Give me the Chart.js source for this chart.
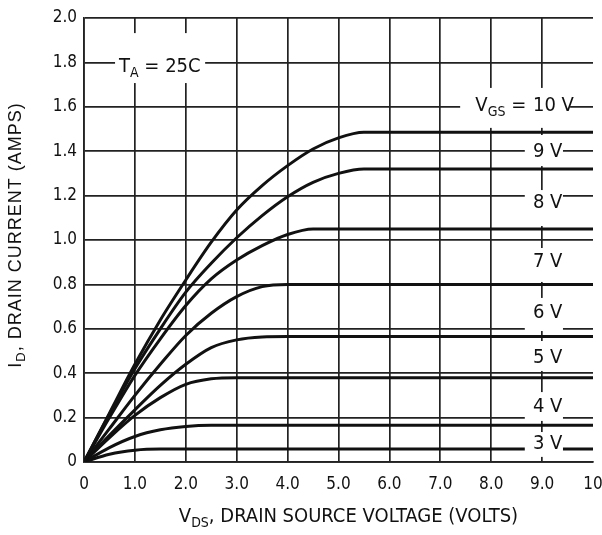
<!DOCTYPE html>
<html><head><meta charset="utf-8">
<script src="https://cdn.jsdelivr.net/npm/chart.js@4.4.1/dist/chart.umd.min.js"></script>
<style>html,body{margin:0;padding:0;background:#fff}#wrap{width:602px;height:535px;position:relative}</style>
</head><body><div id="wrap"><canvas id="c" width="602" height="535"></canvas></div>
<script>
// ---- data ----
const vds   = [0, 0.5, 1, 1.5, 2, 2.5, 3, 3.5, 4, 4.5, 5, 5.5, 6, 7, 8, 9, 10];
const id10V = [0, 0.22, 0.44, 0.64, 0.82, 0.99, 1.135, 1.245, 1.335, 1.41, 1.46, 1.485, 1.485, 1.485, 1.485, 1.485, 1.485];
const id9V  = [0, 0.215, 0.42, 0.60, 0.765, 0.895, 1.01, 1.11, 1.195, 1.26, 1.30, 1.32, 1.32, 1.32, 1.32, 1.32, 1.32];
const id8V  = [0, 0.20, 0.39, 0.555, 0.705, 0.825, 0.91, 0.975, 1.025, 1.05, 1.05, 1.05, 1.05, 1.05, 1.05, 1.05, 1.05];
const id7V  = [0, 0.15, 0.30, 0.44, 0.57, 0.67, 0.745, 0.79, 0.80, 0.80, 0.80, 0.80, 0.80, 0.80, 0.80, 0.80, 0.80];
const id6V  = [0, 0.12, 0.235, 0.345, 0.44, 0.515, 0.55, 0.563, 0.565, 0.565, 0.565, 0.565, 0.565, 0.565, 0.565, 0.565, 0.565];
const id5V  = [0, 0.11, 0.21, 0.29, 0.35, 0.375, 0.38, 0.38, 0.38, 0.38, 0.38, 0.38, 0.38, 0.38, 0.38, 0.38, 0.38];
const id4V  = [0, 0.065, 0.115, 0.145, 0.16, 0.165, 0.165, 0.165, 0.165, 0.165, 0.165, 0.165, 0.165, 0.165, 0.165, 0.165, 0.165];
const id3V  = [0, 0.035, 0.053, 0.058, 0.058, 0.058, 0.058, 0.058, 0.058, 0.058, 0.058, 0.058, 0.058, 0.058, 0.058, 0.058, 0.058];
const seriesNames = ['10 V', '9 V', '8 V', '7 V', '6 V', '5 V', '4 V', '3 V'];
const xTickLabels = ['0', '1.0', '2.0', '3.0', '4.0', '5.0', '6.0', '7.0', '8.0', '9.0', '10'];
const yTickLabels = ['0', '0.2', '0.4', '0.6', '0.8', '1.0', '1.2', '1.4', '1.6', '1.8', '2.0'];
// label anchor (value units): y centre of each curve label, and its white box (top, bottom)
const labelCenters = [1.604, 1.399, 1.167, 0.90, 0.671, 0.468, 0.248, 0.081];
const labelBoxTop  = [1.685, 1.473, 1.225, 0.964, 0.739, 0.545, 0.315, 0.135];
const labelBoxBot  = [1.505, 1.333, 1.063, 0.811, 0.590, 0.410, 0.185, 0.023];

// ---- styling ----
const NARROW = "'DejaVu Sans Condensed','Liberation Sans Narrow','Arial Narrow',sans-serif";
const REG = "'Liberation Sans',Arial,sans-serif";
const GRID = '#222';
const allSeries = [id10V, id9V, id8V, id7V, id6V, id5V, id4V, id3V];

const datasets = allSeries.map((arr, i) => ({
  label: 'VGS = ' + seriesNames[i],
  data: vds.map((x, k) => ({x: x, y: arr[k]})),
  borderColor: '#111',
  borderWidth: 3,
  pointRadius: 0,
  fill: false,
  cubicInterpolationMode: 'monotone'
}));

function drawSegs(ctx, segs, x, y, size, font, align) {
  const widths = [];
  let total = 0;
  segs.forEach(s => {
    ctx.font = (s.sub ? Math.round(size * 0.72) : size) + 'px ' + font;
    const w = ctx.measureText(s.t).width;
    widths.push(w); total += w;
  });
  let cx = align === 'center' ? x - total / 2 : (align === 'right' ? x - total : x);
  ctx.textAlign = 'left';
  ctx.textBaseline = 'middle';
  segs.forEach((s, i) => {
    ctx.font = (s.sub ? Math.round(size * 0.72) : size) + 'px ' + font;
    ctx.fillText(s.t, cx, s.sub ? y + size * 0.32 : y);
    cx += widths[i];
  });
}

const annot = {
  id: 'annot',
  afterDatasetsDraw(chart) {
    const ctx = chart.ctx, xs = chart.scales.x, ys = chart.scales.y, a = chart.chartArea;
    ctx.save();
    ctx.fillStyle = '#fff';
    // T_A box
    ctx.fillRect(xs.getPixelForValue(0.61), ys.getPixelForValue(1.932), xs.getPixelForValue(2.38) - xs.getPixelForValue(0.61), ys.getPixelForValue(1.707) - ys.getPixelForValue(1.932));
    // curve label boxes
    labelCenters.forEach((c, i) => {
      const x0 = xs.getPixelForValue(i === 0 ? 7.39 : 8.66);
      const x1 = xs.getPixelForValue(i === 0 ? 9.55 : 9.41);
      const y0 = ys.getPixelForValue(labelBoxTop[i]);
      const y1 = ys.getPixelForValue(labelBoxBot[i]);
      ctx.fillRect(x0, y0, x1 - x0, y1 - y0);
    });
    ctx.fillStyle = '#111';
    const lx = xs.getPixelForValue(8.82);
    labelCenters.forEach((c, i) => {
      const y = ys.getPixelForValue(c);
      drawSegs(ctx, [{t: seriesNames[i]}], lx, y, 20, NARROW, 'left');
      if (i === 0) drawSegs(ctx, [{t: 'V'}, {t: 'GS', sub: true}, {t: ' = '}], lx - 1, y, 20, NARROW, 'right');
    });
    drawSegs(ctx, [{t: 'T'}, {t: 'A', sub: true}, {t: ' = 25C'}], xs.getPixelForValue(1.49), ys.getPixelForValue(1.78), 20, NARROW, 'center');
    // axis titles
    drawSegs(ctx, [{t: 'V'}, {t: 'DS', sub: true}, {t: ', DRAIN SOURCE VOLTAGE (VOLTS)'}], (a.left + a.right) / 2 + 10, 517, 20, NARROW, 'center');
    ctx.translate(16, (a.top + a.bottom) / 2 - 5);
    ctx.rotate(-Math.PI / 2);
    ctx.letterSpacing = '1px';
    drawSegs(ctx, [{t: 'I'}, {t: 'D', sub: true}, {t: ', DRAIN CURRENT (AMPS)'}], 0, 0, 18, REG, 'center');
    ctx.restore();
  }
};

new Chart(document.getElementById('c'), {
  type: 'line',
  data: {datasets},
  options: {
    responsive: false,
    animation: false,
    events: [],
    layout: {padding: {left: 0, right: 9, top: 18, bottom: 0}},
    plugins: {legend: {display: false}, tooltip: {enabled: false}},
    scales: {
      x: {
        type: 'linear', min: 0, max: 10,
        afterFit: s => { s.height = 73; s.paddingLeft = 0; s.paddingRight = 0; },
        ticks: {stepSize: 1, padding: 12, color: '#111', font: {family: NARROW, size: 17},
          callback: (v, i) => xTickLabels[i], maxRotation: 0, autoSkip: false},
        grid: {drawTicks: false, lineWidth: 1.7, color: c => (c.tick && c.tick.value === 10) ? 'rgba(0,0,0,0)' : GRID},
        border: {display: true, color: GRID, width: 1.7}
      },
      y: {
        type: 'linear', min: 0, max: 2,
        afterFit: s => { s.width = 84; s.paddingTop = 0; s.paddingBottom = 0; },
        ticks: {stepSize: 0.2, padding: 7, color: '#111', font: {family: NARROW, size: 17},
          callback: (v, i) => yTickLabels[i], autoSkip: false},
        grid: {drawTicks: false, lineWidth: 1.7, color: GRID},
        border: {display: true, color: GRID, width: 1.7}
      }
    }
  },
  plugins: [annot]
});
</script></body></html>
